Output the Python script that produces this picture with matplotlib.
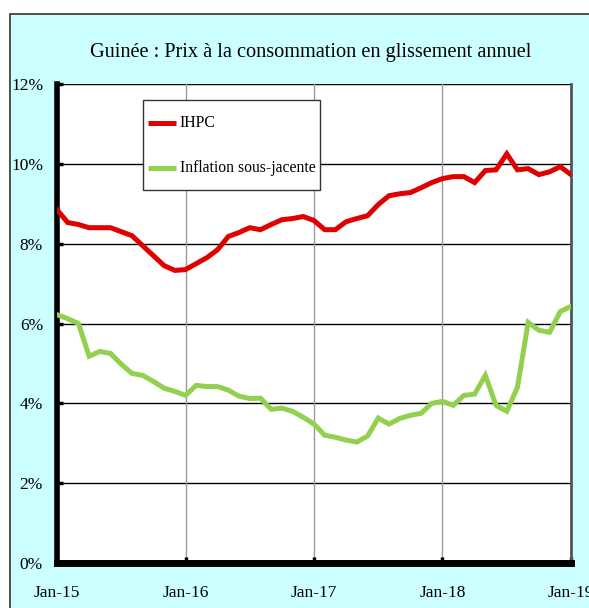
import matplotlib
matplotlib.use("Agg")
import matplotlib.pyplot as plt
import matplotlib.patches as patches
import numpy as np

# Données mensuelles (janv. 2015 - janv. 2019), en %
mois = np.arange(49)
ihpc = [8.85, 8.53, 8.48, 8.40, 8.40, 8.40, 8.30, 8.20, 7.95, 7.70, 7.45, 7.33,
        7.35, 7.50, 7.65, 7.85, 8.18, 8.28, 8.40, 8.35, 8.48, 8.60, 8.63, 8.68,
        8.58, 8.35, 8.35, 8.55, 8.63, 8.70, 8.98, 9.20, 9.25, 9.28, 9.40, 9.53,
        9.63, 9.68, 9.68, 9.53, 9.83, 9.85, 10.25, 9.85, 9.88, 9.73, 9.80, 9.93,
        9.73]
sous_jacente = [6.22, 6.12, 6.00, 5.18, 5.30, 5.25, 4.98, 4.75, 4.70, 4.55, 4.38, 4.30,
                4.20, 4.45, 4.42, 4.42, 4.33, 4.18, 4.12, 4.13, 3.85, 3.88, 3.80, 3.65,
                3.48, 3.20, 3.15, 3.08, 3.03, 3.18, 3.63, 3.48, 3.62, 3.70, 3.75, 4.00,
                4.05, 3.95, 4.20, 4.23, 4.70, 3.95, 3.80, 4.40, 6.03, 5.83, 5.78, 6.30,
                6.43]
xticks_pos = [0, 12, 24, 36, 48]
xticks_lab = ['Jan-15', 'Jan-16', 'Jan-17', 'Jan-18', 'Jan-19']
yticks_pos = [0, 2, 4, 6, 8, 10, 12]
yticks_lab = ['0%', '2%', '4%', '6%', '8%', '10%', '12%']
series_noms = ['IHPC', 'Inflation sous-jacente']
series_couleurs = ['#E00000', '#92D050']

plt.rcParams['font.family'] = ['Liberation Serif', 'DejaVu Serif']

fig = plt.figure(figsize=(5.89, 6.08), dpi=100, facecolor='white')

# Cadre de fond cyan (derrière les axes)
fond = patches.Rectangle((10 / 589, -0.01), 1.0, 1.01 - 14 / 608,
                         transform=fig.transFigure, facecolor='#CCFFFF',
                         edgecolor='#333333', linewidth=1.2, zorder=-5)
fig.patches.append(fond)

fig.text(0.527, 1 - 52 / 608, 'Guinée : Prix à la consommation en glissement annuel',
         ha='center', va='center', fontsize=14.6, color='black')

ax = fig.add_axes([57 / 589, 1 - 563 / 608, (571 - 57) / 589, (563 - 84) / 608])
ax.set_facecolor('white')

for valeurs, couleur in zip([ihpc, sous_jacente], series_couleurs):
    ax.plot(mois, valeurs, color=couleur, linewidth=3.6, solid_joinstyle='miter', zorder=3)

ax.set_xlim(0, 48)
ax.set_ylim(0, 12)
ax.set_yticks(yticks_pos)
ax.set_yticklabels(yticks_lab)
ax.set_xticks(xticks_pos)
ax.set_xticklabels(xticks_lab)

for y in yticks_pos[1:]:
    ax.axhline(y, color='black', linewidth=1.0, zorder=1)
for x in xticks_pos[1:-1]:
    ax.axvline(x, color='#999999', linewidth=1.0, zorder=1)

ax.tick_params(axis='both', direction='in', length=4, width=2.5, color='black',
               labelsize=12.5)
ax.tick_params(axis='y', pad=10)
ax.tick_params(axis='x', pad=16)

ax.spines['left'].set_linewidth(4)
ax.spines['left'].set_color('black')
ax.spines['bottom'].set_linewidth(5)
ax.spines['bottom'].set_color('black')
ax.spines['right'].set_linewidth(2)
ax.spines['right'].set_color('#555555')
ax.spines['top'].set_visible(False)

# Légende dessinée à la main (coordonnées de l'axe)
cadre = patches.Rectangle((0.167, 0.779), 0.345, 0.1876, transform=ax.transAxes,
                          facecolor='white', edgecolor='#333333', linewidth=1.0,
                          zorder=5)
ax.add_patch(cadre)
for i, (nom, couleur) in enumerate(zip(series_noms, series_couleurs)):
    yl = 0.9186 - i * 0.094
    ax.plot([0.177, 0.2315], [yl, yl], transform=ax.transAxes, color=couleur,
            linewidth=3.6, solid_capstyle='butt', zorder=6, clip_on=False)
    ax.text(0.239, yl, nom, transform=ax.transAxes, ha='left', va='center',
            fontsize=11.3, zorder=6)

fig.savefig('out.png', dpi=100, facecolor='white')
